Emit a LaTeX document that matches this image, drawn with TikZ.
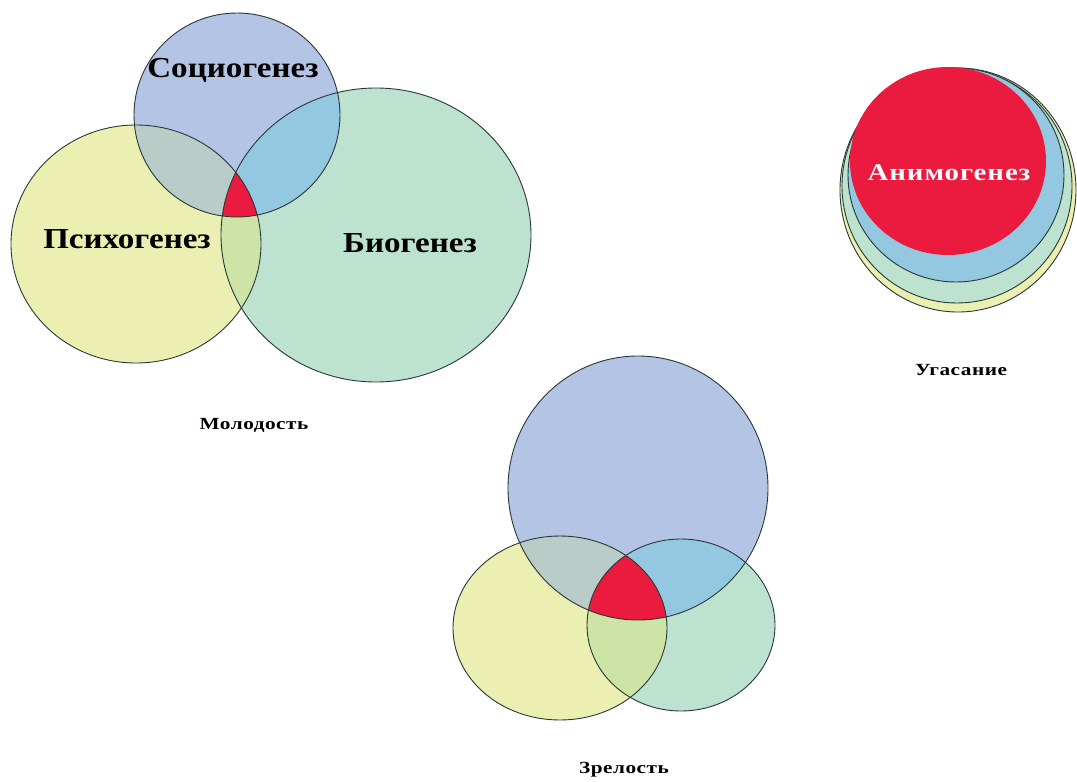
\documentclass[tikz,border=0pt]{standalone}
\usepackage{fontspec}
\setmainfont{Liberation Serif}
\newfontfamily\wideA[FakeStretch=1.14]{Liberation Serif}
\newfontfamily\wideB[FakeStretch=1.25, LetterSpace=3]{Liberation Serif}
\newfontfamily\wideC[FakeStretch=1.2, LetterSpace=4]{Liberation Serif}
\definecolor{cBlue}{RGB}{180,196,228}
\definecolor{cYellow}{RGB}{235,240,178}
\definecolor{cGreen}{RGB}{190,226,208}
\definecolor{cBY}{RGB}{186,204,200}
\definecolor{cBG}{RGB}{148,200,224}
\definecolor{cYG}{RGB}{206,228,166}
\definecolor{cRed}{RGB}{234,27,62}
\definecolor{cLine}{RGB}{40,55,55}
\tikzset{
  edge/.style={draw=cLine, line width=0.9pt},
  bigname/.style={font=\wideA\bfseries\fontsize{29}{31}\selectfont, inner sep=0pt},
  agename/.style={font=\wideB\bfseries\fontsize{17}{19}\selectfont, inner sep=0pt},
  animname/.style={font=\wideC\bfseries\fontsize{24}{26}\selectfont, inner sep=0pt, text=white},
  % Molodost
  mS/.style={insert path={(237,115) ellipse [x radius=103pt, y radius=102pt]}},
  mP/.style={insert path={(136,244) ellipse [x radius=125pt, y radius=119pt]}},
  mB/.style={insert path={(376,235) ellipse [x radius=155pt, y radius=147pt]}},
  % Zrelost
  zS/.style={insert path={(638,488) ellipse [x radius=130pt, y radius=132pt]}},
  zP/.style={insert path={(560,628) ellipse [x radius=107pt, y radius=92pt]}},
  zB/.style={insert path={(681,625) ellipse [x radius=94pt, y radius=86pt]}},
}
\begin{document}
\begin{tikzpicture}[x=1pt,y=-1pt]
\useasboundingbox (0,0) rectangle (1077,782);

% ---------- Молодость ----------
\fill[cYellow, mP];
\fill[cGreen, mB];
\fill[cBlue, mS];
\begin{scope}\clip[mS]; \fill[cBY, mP]; \fill[cBG, mB]; \end{scope}
\begin{scope}\clip[mP]; \fill[cYG, mB]; \end{scope}
\begin{scope}\clip[mS]; \clip[mP]; \fill[cRed, mB]; \end{scope}
\path[edge, mP]; \path[edge, mB]; \path[edge, mS];
\node[bigname] (socio) at (233,70) {Социогенез};
\node[bigname] (psycho) at (127,239) {Психогенез};
\node[bigname] (bio) at (410,243) {Биогенез};
\node[agename] (young) at (254,425) {Молодость};

% ---------- Зрелость ----------
\fill[cYellow, zP];
\fill[cGreen, zB];
\fill[cBlue, zS];
\begin{scope}\clip[zS]; \fill[cBY, zP]; \fill[cBG, zB]; \end{scope}
\begin{scope}\clip[zP]; \fill[cYG, zB]; \end{scope}
\begin{scope}\clip[zS]; \clip[zP]; \fill[cRed, zB]; \end{scope}
\path[edge, zP]; \path[edge, zB]; \path[edge, zS];
\node[agename] (mature) at (624,770) {Зрелость};

% ---------- Угасание ----------
\path[edge, fill=cYellow] (958,190) ellipse [x radius=118pt, y radius=122pt];
\path[edge, fill=cGreen] (957,186) ellipse [x radius=115pt, y radius=117pt];
\path[edge, fill=cBG] (956,175) ellipse [x radius=108pt, y radius=107pt];
\fill[cRed] (948,161) ellipse [x radius=98pt, y radius=94pt];
\node[animname] (anim) at (949,173) {Анимогенез};
\node[agename] (fade) at (961,370) {Угасание};
\end{tikzpicture}
\end{document}
